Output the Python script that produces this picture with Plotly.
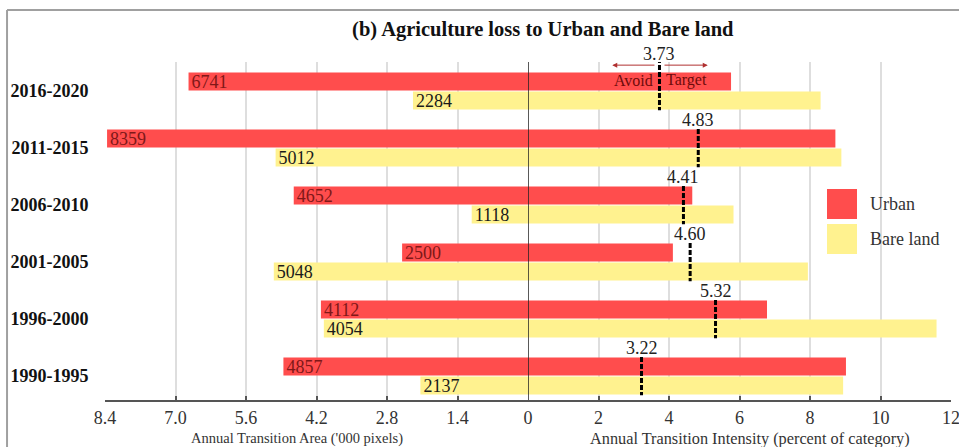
import plotly.graph_objects as go

# Periods, top to bottom
periods = ["2016-2020", "2011-2015", "2006-2010", "2001-2005", "1996-2000", "1990-1995"]

# Annual transition area (pixels) of agriculture lost to each category
urban_area = [6741, 8359, 4652, 2500, 4112, 4857]
bare_area = [2284, 5012, 1118, 5048, 4054, 2137]

# Annual transition intensity (percent of category)
urban_intensity = [5.76, 8.72, 4.66, 4.11, 6.78, 9.02]
bare_intensity = [8.30, 8.89, 5.83, 7.94, 11.59, 8.94]

# Uniform intensity for each period
uniform_intensity = [3.73, 4.83, 4.41, 4.60, 5.32, 3.22]

left_ticks = [8.4, 7.0, 5.6, 4.2, 2.8, 1.4, 0]
left_ticktext = ["8.4", "7.0", "5.6", "4.2", "2.8", "1.4", "0"]
right_ticks = [2, 4, 6, 8, 10, 12]

RED = "#ff4d4d"
YELLOW = "#fff28f"
SERIF = "Liberation Serif, Times New Roman, serif"

fig = go.Figure()

# Left half: area bars, labelled with their values at the outer end
fig.add_trace(go.Bar(
    y=periods, x=[v / 1000 for v in urban_area], orientation="h",
    xaxis="x", yaxis="y", marker=dict(color=RED, line=dict(width=0)),
    text=[str(v) for v in urban_area], textposition="inside",
    insidetextanchor="end", textangle=0, constraintext="none",
    insidetextfont=dict(family=SERIF, size=18, color="#801818"),
    name="Urban", showlegend=False,
))
fig.add_trace(go.Bar(
    y=periods, x=[v / 1000 for v in bare_area], orientation="h",
    xaxis="x", yaxis="y", marker=dict(color=YELLOW, line=dict(width=0)),
    text=[str(v) for v in bare_area], textposition="inside",
    insidetextanchor="end", textangle=0, constraintext="none",
    insidetextfont=dict(family=SERIF, size=18, color="#1a1a1a"),
    name="Bare land", showlegend=False,
))

# Right half: intensity bars
fig.add_trace(go.Bar(
    y=periods, x=urban_intensity, orientation="h",
    xaxis="x2", yaxis="y", marker=dict(color=RED, line=dict(width=0)),
    name="Urban", showlegend=False,
))
fig.add_trace(go.Bar(
    y=periods, x=bare_intensity, orientation="h",
    xaxis="x2", yaxis="y", marker=dict(color=YELLOW, line=dict(width=0)),
    name="Bare land", showlegend=False,
))

shapes = []
annotations = []

# Uniform intensity: dashed marker across each period's pair of bars, value above.
# The first period's marker is extended upward to carry the Avoid/Target arrows.
half = 0.335
extend_px = 14
for i, u in enumerate(uniform_intensity):
    lift = extend_px if i == 0 else 0
    top = i - half - lift / 57.0
    shapes.append(dict(
        type="line", xref="x2", yref="y", x0=u, x1=u, y0=top, y1=i + half,
        line=dict(color="black", width=3, dash="5px,2px"), layer="above",
    ))
    annotations.append(dict(
        xref="x2", yref="y", x=u, y=i - half, yshift=(7 if i == 0 else -2),
        text=f"{u:.2f}", showarrow=False, yanchor="bottom", xanchor="center",
        borderpad=0, font=dict(family=SERIF, size=18, color="#222"),
    ))

# Avoid / Target arrows around the first uniform intensity
u0 = uniform_intensity[0]
arrow_y = -0.455
for tip in (u0 - 1.34, u0 + 1.37):
    annotations.append(dict(
        xref="x2", yref="y", x=tip, y=arrow_y, axref="x2", ayref="y",
        ax=u0 + (0.1 if tip > u0 else -0.1), ay=arrow_y, text="",
        showarrow=True, arrowhead=2, arrowsize=1, arrowwidth=1,
        arrowcolor="#b03030",
    ))
annotations.append(dict(
    xref="x2", yref="y", x=u0 - 0.12, y=-0.19, text="Avoid", showarrow=False,
    xanchor="right", yanchor="middle",
    font=dict(family=SERIF, size=16, color="#6e0b0b"),
))
annotations.append(dict(
    xref="x2", yref="y", x=u0 + 0.12, y=-0.19, text="Target", showarrow=False,
    xanchor="left", yanchor="middle",
    font=dict(family=SERIF, size=16, color="#6e0b0b"),
))

# Zero line between the two halves
shapes.append(dict(
    type="line", xref="x2", yref="paper", x0=0, x1=0, y0=0, y1=1,
    line=dict(color="#222", width=1.5), layer="above",
))

# Legend swatches and labels
legend_items = [("Urban", RED, 0.6243, 0.5355), ("Bare land", YELLOW, 0.5207, 0.432)]
for label, color, y_top, y_bot in legend_items:
    shapes.append(dict(
        type="rect", xref="paper", yref="paper", x0=0.8534, x1=0.8889,
        y0=y_bot, y1=y_top, fillcolor=color, line=dict(width=0), layer="above",
    ))
    annotations.append(dict(
        xref="paper", yref="paper", x=0.902, y=(y_top + y_bot) / 2, text=label,
        showarrow=False, xanchor="left", yanchor="middle",
        font=dict(family=SERIF, size=18, color="#333"),
    ))

# Axis titles for both halves
annotations.append(dict(
    xref="paper", yref="paper", x=0.227, y=-0.114,
    text="Annual Transition Area ('000 pixels)", showarrow=False,
    xanchor="center", yanchor="middle",
    font=dict(family=SERIF, size=14.5, color="#333"),
))
annotations.append(dict(
    xref="paper", yref="paper", x=0.762, y=-0.114,
    text="Annual Transition Intensity (percent of category)", showarrow=False,
    xanchor="center", yanchor="middle",
    font=dict(family=SERIF, size=16.3, color="#333"),
))

# Figure frame
frame = dict(color="#a0a0a0", width=2)
shapes.append(dict(type="line", xref="paper", yref="paper",
                   x0=-0.1158, x1=1.02, y0=1.1538, y1=1.1538, line=frame, layer="above"))
shapes.append(dict(type="line", xref="paper", yref="paper",
                   x0=-0.1158, x1=-0.1158, y0=1.1538, y1=-0.2, line=frame, layer="above"))

axis_common = dict(
    showgrid=True, gridcolor="#dedede", gridwidth=1.5,
    showline=True, linecolor="#555", linewidth=1.5,
    ticks="inside", ticklen=4, tickcolor="#555", tickwidth=1.5,
    zeroline=False, anchor="y", automargin=False, ticklabeloverflow="allow",
    tickfont=dict(family=SERIF, size=18, color="#333"),
    ticklabelstandoff=1,
)

fig.update_layout(
    width=959, height=447,
    margin=dict(l=105, r=8, t=62, b=47, autoexpand=False),
    paper_bgcolor="white", plot_bgcolor="white",
    barmode="group", bargap=0.333, bargroupgap=0.05,
    title=dict(
        text="<b>(b) Agriculture loss to Urban and Bare land</b>",
        xref="container", yref="container", x=0.566, y=0.935,
        xanchor="center", yanchor="middle",
        font=dict(family=SERIF, size=20.5, color="#111"),
    ),
    xaxis=dict(domain=[0, 0.5], range=[8.4, 0], tickvals=left_ticks,
               ticktext=left_ticktext, **axis_common),
    xaxis2=dict(domain=[0.5, 1], range=[0, 12], tickvals=right_ticks, **axis_common),
    yaxis=dict(
        type="category", categoryorder="array", categoryarray=periods,
        range=[5.42, -0.51], showgrid=False, zeroline=False, showline=False,
        automargin=False,
        ticks="outside", ticklen=12, tickcolor="rgba(0,0,0,0)",
        tickfont=dict(family=SERIF, size=18, color="#111", weight="bold"),
    ),
    shapes=shapes,
    annotations=annotations,
)

fig.write_html("out.html")
